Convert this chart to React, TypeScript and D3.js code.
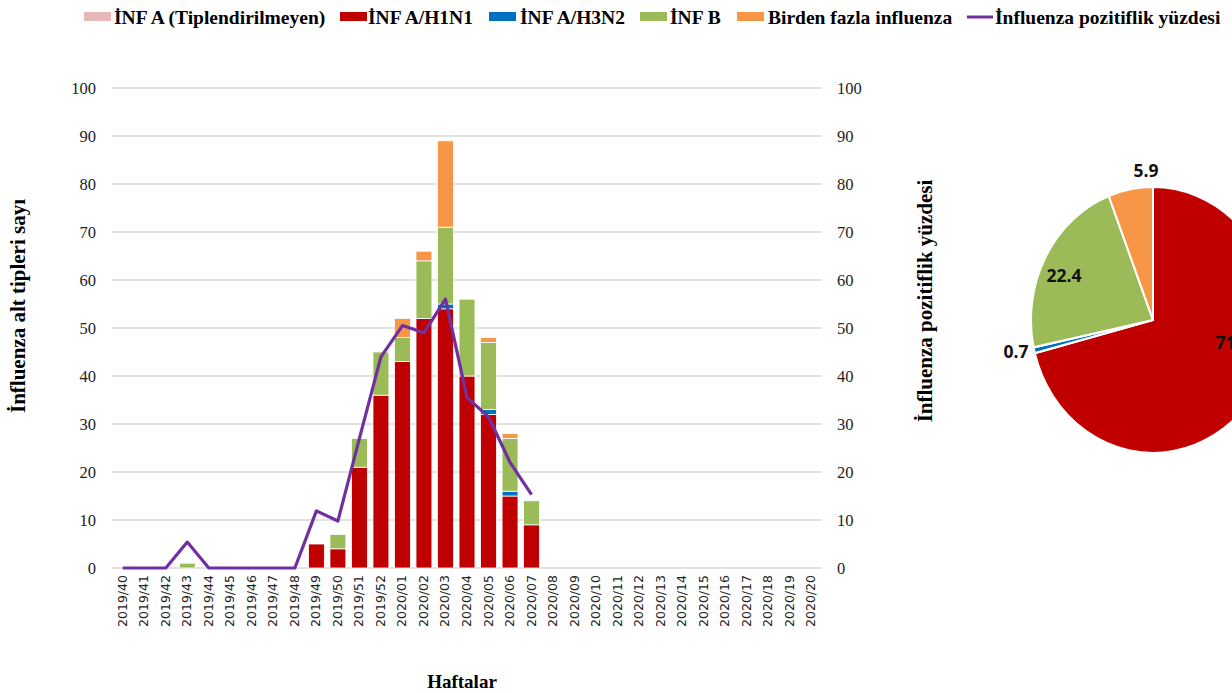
import React from "react";
import * as d3 from "d3";

// Weekly surveillance categories
const weeks: string[] = [
  "2019/40", "2019/41", "2019/42", "2019/43", "2019/44", "2019/45", "2019/46",
  "2019/47", "2019/48", "2019/49", "2019/50", "2019/51", "2019/52", "2020/01",
  "2020/02", "2020/03", "2020/04", "2020/05", "2020/06", "2020/07", "2020/08",
  "2020/09", "2020/10", "2020/11", "2020/12", "2020/13", "2020/14", "2020/15",
  "2020/16", "2020/17", "2020/18", "2020/19", "2020/20",
];

// Subtype counts per week
const infAUntyped: number[] = [0,0,0,0,0,0,0,0,0,0,0,0,0,0,0,0,0,0,0,0,0,0,0,0,0,0,0,0,0,0,0,0,0];
const infAH1N1: number[] = [0,0,0,0,0,0,0,0,0,5,4,21,36,43,52,54,40,32,15,9,0,0,0,0,0,0,0,0,0,0,0,0,0];
const infAH3N2: number[] = [0,0,0,0,0,0,0,0,0,0,0,0,0,0,0,1,0,1,1,0,0,0,0,0,0,0,0,0,0,0,0,0,0];
const infB: number[] = [0,0,0,1,0,0,0,0,0,0,3,6,9,5,12,16,16,14,11,5,0,0,0,0,0,0,0,0,0,0,0,0,0];
const multiInf: number[] = [0,0,0,0,0,0,0,0,0,0,0,0,0,4,2,18,0,1,1,0,0,0,0,0,0,0,0,0,0,0,0,0,0];

// Positivity percentage (plotted up to 2020/07)
const positivity: number[] = [0,0,0,5.4,0,0,0,0,0,11.9,9.8,27,44,50.5,49,56,35.5,31.5,22,15.3];

// Cumulative share of each subtype (%)
const pieLabels: string[] = ["İNF A (Tiplendirilmeyen)", "İNF A/H1N1", "İNF A/H3N2", "İNF B", "Birden fazla influenza"];
const pieValues: number[] = [0, 71.0, 0.7, 22.4, 5.9];
const pieValueText: string[] = ["", "71.0", "0.7", "22.4", "5.9"];

const yTicks: number[] = [0, 10, 20, 30, 40, 50, 60, 70, 80, 90, 100];

const seriesNames = ["İNF A (Tiplendirilmeyen)", "İNF A/H1N1", "İNF A/H3N2", "İNF B", "Birden fazla influenza"];
const seriesColors = ["#e6b9b8", "#c00000", "#0070c0", "#9bbb59", "#f79646"];
const lineName = "İnfluenza pozitiflik yüzdesi";
const lineColor = "#7030a0";

const W = 1232;
const H = 693;
const plot = { left: 112, right: 822, top: 88, bottom: 568 };

const serif = "'Liberation Serif', 'Times New Roman', serif";
const sans = "'DejaVu Sans', sans-serif";

export default function App() {
  const x = d3.scaleBand<string>().domain(weeks).range([plot.left, plot.right]).paddingInner(0.26).paddingOuter(0.13);
  const y = d3.scaleLinear().domain([0, 100]).range([plot.bottom, plot.top]);

  const rows = weeks.map((w, i) => ({
    week: w,
    a: infAUntyped[i],
    h1: infAH1N1[i],
    h3: infAH3N2[i],
    b: infB[i],
    m: multiInf[i],
  }));
  const keys = ["a", "h1", "h3", "b", "m"];
  const stacked = d3.stack<any>().keys(keys)(rows);

  const line = d3
    .line<number>()
    .x((_, i) => (x(weeks[i]) as number) + x.bandwidth() / 2)
    .y((d) => y(d));

  // Pie (drawn slightly taller than wide)
  const cx = 1153;
  const cy = 320;
  const r = 122;
  const sy = 1.09;
  const pieGen = d3.pie<number>().sort(null).value((d) => d)(pieValues);
  const arc = d3.arc<d3.PieArcDatum<number>>().innerRadius(0).outerRadius(r);
  const pieLabelPos: Record<number, [number, number]> = {
    1: [cx + 80, cy + 29],
    2: [cx - 137, cy + 38],
    3: [cx - 89, cy - 38],
    4: [cx - 7, cy - 143],
  };

  // Legend layout
  const legendItems = [
    { x: 84, tx: 114, label: seriesNames[0], color: seriesColors[0] },
    { x: 340, tx: 368, label: seriesNames[1], color: seriesColors[1] },
    { x: 489, tx: 520, label: seriesNames[2], color: seriesColors[2] },
    { x: 640, tx: 670, label: seriesNames[3], color: seriesColors[3] },
    { x: 737, tx: 768, label: seriesNames[4], color: seriesColors[4] },
  ];

  return (
    <svg
      width={W}
      height={H}
      style={{ position: "absolute", left: 0, top: 0, background: "#fff" }}
      xmlns="http://www.w3.org/2000/svg"
    >
      {/* Legend */}
      <g fontFamily={serif} fontWeight="bold" fontSize={19.5} fill="#000">
        {legendItems.map((it) => (
          <g key={it.label}>
            <rect x={it.x} y={12} width={27} height={9} fill={it.color} />
            <text x={it.tx} y={24}>{it.label}</text>
          </g>
        ))}
        <line x1={967} x2={993} y1={17} y2={17} stroke={lineColor} strokeWidth={3} />
        <text x={995} y={24}>{lineName}</text>
      </g>

      {/* Gridlines */}
      {yTicks.map((t) => (
        <line key={t} x1={plot.left} x2={plot.right} y1={y(t)} y2={y(t)} stroke="#d9d9d9" strokeWidth={1.3} />
      ))}

      {/* Left and right axis labels */}
      <g fontFamily={serif} fontSize={16.5} fill="#222">
        {yTicks.map((t) => (
          <text key={"l" + t} x={96} y={y(t) + 6} textAnchor="end">{t}</text>
        ))}
        {yTicks.map((t) => (
          <text key={"r" + t} x={837} y={y(t) + 6} textAnchor="start">{t}</text>
        ))}
      </g>

      {/* Stacked bars */}
      {stacked.map((layer, li) => (
        <g key={layer.key} fill={seriesColors[li]}>
          {layer.map((d, i) => {
            const h = y(d[0]) - y(d[1]);
            if (h <= 0) return null;
            return (
              <rect
                key={i}
                x={x(weeks[i])}
                y={y(d[1])}
                width={x.bandwidth()}
                height={h}
                stroke="#fff"
                strokeWidth={0.8}
              />
            );
          })}
        </g>
      ))}

      {/* Positivity line */}
      <path d={line(positivity) || ""} fill="none" stroke={lineColor} strokeWidth={3.2} strokeLinejoin="round" />

      {/* X axis labels */}
      <g fontFamily={sans} fontSize={12.5} fill="#222">
        {weeks.map((w) => {
          const cxw = (x(w) as number) + x.bandwidth() / 2 + 4;
          return (
            <text key={w} transform={`translate(${cxw},575) rotate(-90)`} textAnchor="end">
              {w}
            </text>
          );
        })}
      </g>

      {/* Axis titles */}
      <g fontFamily={serif} fontWeight="bold" fill="#000">
        <text transform="translate(25,306) rotate(-90)" textAnchor="middle" fontSize={21}>İnfluenza alt tipleri sayı</text>
        <text transform="translate(932,301) rotate(-90)" textAnchor="middle" fontSize={21}>{lineName}</text>
        <text x={462} y={688} textAnchor="middle" fontSize={19}>Haftalar</text>
      </g>

      {/* Pie */}
      <g transform={`translate(${cx},${cy}) scale(1,${sy})`}>
        {pieGen.map((p, i) =>
          p.value > 0 ? (
            <path key={pieLabels[i]} d={arc(p) || ""} fill={seriesColors[i]} stroke="#fff" strokeWidth={2} />
          ) : null
        )}
      </g>
      <g fontFamily="'Open Sans', 'DejaVu Sans', sans-serif" fontWeight="bold" fontSize={17.5} fill="#111">
        {pieGen.map((p, i) =>
          pieLabelPos[i] ? (
            <text key={"pl" + i} x={pieLabelPos[i][0]} y={pieLabelPos[i][1]} textAnchor="middle">
              {pieValueText[i]}
            </text>
          ) : null
        )}
      </g>
    </svg>
  );
}
